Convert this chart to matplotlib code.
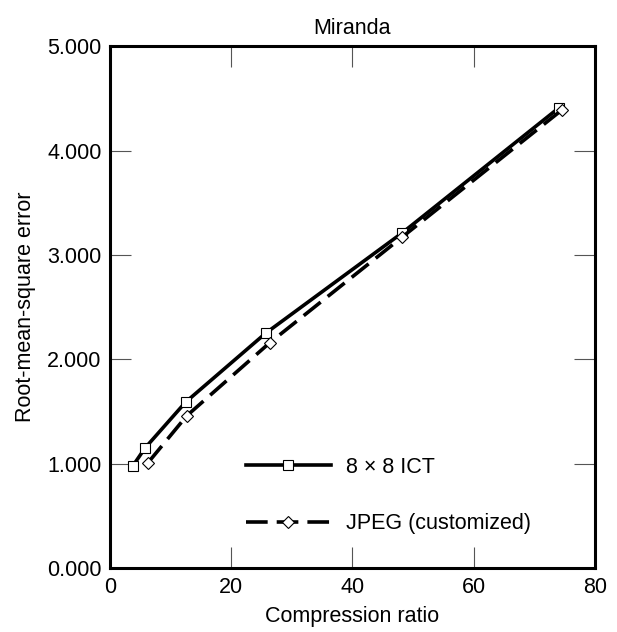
import matplotlib
matplotlib.use("Agg")
import matplotlib.pyplot as plt

# data
ict_ratio = [3.8, 5.8, 12.5, 25.7, 48.2, 74.1]
ict_rmse = [0.98, 1.15, 1.59, 2.25, 3.21, 4.41]
jpeg_ratio = [6.3, 12.7, 26.4, 48.2, 74.6]
jpeg_rmse = [1.01, 1.46, 2.16, 3.17, 4.39]

x_ticks = [0, 20, 40, 60, 80]
y_ticks = [0, 1, 2, 3, 4, 5]
y_tick_labels = ["0.000", "1.000", "2.000", "3.000", "4.000", "5.000"]

plt.rcParams['font.family'] = ['Liberation Sans', 'DejaVu Sans']

fig = plt.figure(figsize=(6.17, 6.32), dpi=100)
ax = fig.add_axes([0.178, 0.101, 0.786, 0.826])

ax.plot(ict_ratio, ict_rmse, color='black', linewidth=2.6,
        marker='s', markersize=7, markerfacecolor='white',
        markeredgecolor='black', markeredgewidth=0.8, label='8 \u00d7 8 ICT')
ax.plot(jpeg_ratio, jpeg_rmse, color='black', linewidth=2.6, dashes=(6, 2.5),
        marker='D', markersize=6.5, markerfacecolor='white',
        markeredgecolor='black', markeredgewidth=0.8, label='JPEG (customized)')

ax.set_xlim(0, 80)
ax.set_ylim(0, 5)
ax.set_xticks(x_ticks)
ax.set_yticks(y_ticks)
ax.set_yticklabels(y_tick_labels)
ax.tick_params(direction='in', length=15, width=0.8, color='#555555',
               top=True, right=True, labelsize=15.5, pad=6)

for sp in ax.spines.values():
    sp.set_linewidth(2.2)

ax.set_title('Miranda', fontsize=15.5, pad=9)
ax.set_xlabel('Compression ratio', fontsize=15.5, labelpad=6)
ax.set_ylabel('Root-mean-square error', fontsize=15.5, labelpad=8)

ax.legend(loc='center left', bbox_to_anchor=(0.24, 0.139), frameon=False,
          numpoints=1, handlelength=3.95, labelspacing=1.65, fontsize=15.5,
          handletextpad=0.7)

fig.savefig('out.png', dpi=100)
